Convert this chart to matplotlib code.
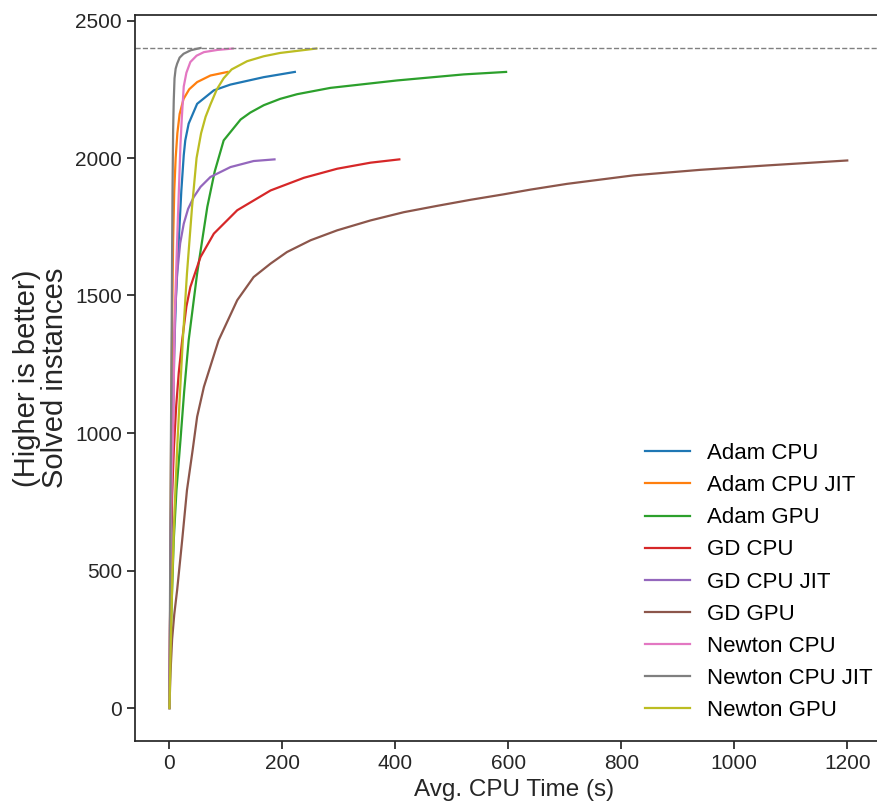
import matplotlib
matplotlib.use("Agg")
import matplotlib.pyplot as plt

plt.rcParams['font.family'] = ['Liberation Sans', 'DejaVu Sans']

# series labels (legend order)
labels = ['Adam CPU', 'Adam CPU JIT', 'Adam GPU', 'GD CPU', 'GD CPU JIT',
          'GD GPU', 'Newton CPU', 'Newton CPU JIT', 'Newton GPU']

# avg cpu time (s) / solved instances
adam_cpu_x = [0, 2, 4, 6, 8.5, 11.5, 16.5, 21, 25.3, 28, 34, 49, 78.6, 108, 167, 222]
adam_cpu_y = [0, 350, 700, 1000, 1300, 1500, 1701, 1880, 2010, 2064, 2125, 2197, 2246, 2267, 2294, 2313]

adam_jit_x = [0, 1, 2, 3, 5, 6.5, 8.5, 11, 14, 18, 25, 35, 49, 72.6, 103]
adam_jit_y = [0, 300, 650, 1000, 1450, 1700, 1880, 2000, 2090, 2160, 2215, 2250, 2276, 2300, 2313]

adam_gpu_x = [0, 2, 4.7, 7.6, 12.4, 19.5, 26, 34, 49, 67, 80, 96, 126, 143, 167, 196, 226, 285, 403, 521, 596]
adam_gpu_y = [0, 250, 429, 610, 792, 974, 1150, 1337, 1580, 1822, 1950, 2064, 2140, 2165, 2192, 2215, 2232,
              2255, 2282, 2304, 2313]

gd_cpu_x = [0, 1, 2.5, 4.7, 8, 12, 16.5, 22.5, 30, 37, 55, 78.6, 120, 179, 238, 297, 356, 407]
gd_cpu_y = [0, 300, 580, 780, 950, 1100, 1220, 1337, 1460, 1531, 1640, 1725, 1810, 1882, 1928, 1961, 1983, 1995]

gd_jit_x = [0, 1, 2, 3.5, 5, 7.6, 10, 13.6, 19, 25.3, 33, 43, 55, 72.6, 108, 149, 186]
gd_jit_y = [0, 300, 600, 850, 1000, 1250, 1430, 1580, 1690, 1761, 1815, 1858, 1895, 1931, 1967, 1989, 1995]

gd_gpu_x = [0, 1.8, 4.7, 8.5, 13.6, 22.5, 31, 41, 49, 61, 87, 120, 149, 179, 208, 250,
            297, 356, 415, 474, 533, 592, 639, 704, 822, 940, 1058, 1200]
gd_gpu_y = [0, 127, 250, 340, 429, 610, 792, 937, 1059, 1168, 1337, 1483, 1567, 1616, 1658, 1701,
            1737, 1773, 1803, 1826, 1848, 1868, 1885, 1906, 1937, 1957, 1973, 1991]

newton_cpu_x = [0, 1, 2, 3.5, 5, 6.5, 9, 13.6, 17, 19.5, 22, 25.3, 30, 37, 48, 61, 85, 112]
newton_cpu_y = [0, 300, 600, 800, 900, 1000, 1400, 1700, 1900, 2050, 2150, 2260, 2310, 2349, 2372, 2385, 2393, 2398]

newton_jit_x = [0, 1, 2, 3, 4, 4.7, 5.5, 6.5, 7.6, 9, 11, 13.6, 18, 25, 38, 55]
newton_jit_y = [0, 400, 800, 1100, 1400, 1664, 1900, 2100, 2209, 2290, 2325, 2343, 2365, 2379, 2392, 2400]

newton_gpu_x = [0, 2, 5, 9, 14, 19, 24, 31, 40, 48, 56, 64, 72.6, 84, 96, 110, 137.5, 167, 196, 260]
newton_gpu_y = [0, 200, 470, 720, 960, 1160, 1350, 1580, 1822, 2000, 2090, 2150, 2195, 2250, 2290, 2322,
                2352, 2370, 2382, 2398]

xs = [adam_cpu_x, adam_jit_x, adam_gpu_x, gd_cpu_x, gd_jit_x, gd_gpu_x,
      newton_cpu_x, newton_jit_x, newton_gpu_x]
ys = [adam_cpu_y, adam_jit_y, adam_gpu_y, gd_cpu_y, gd_jit_y, gd_gpu_y,
      newton_cpu_y, newton_jit_y, newton_gpu_y]

total_instances = 2400

fig = plt.figure(figsize=(8.77, 8.05), dpi=100)
ax = fig.add_axes([135 / 877, 64 / 805, 758 / 877, 726 / 805])

for x, y, lab in zip(xs, ys, labels):
    ax.plot(x, y, label=lab, linewidth=1.6, solid_joinstyle='round')

ax.axhline(total_instances, color='grey', linestyle='--', linewidth=1)

ax.set_xlim(-61, 1281)
ax.set_ylim(-120, 2520)
ax.set_xticks([0, 200, 400, 600, 800, 1000, 1200])
ax.set_yticks([0, 500, 1000, 1500, 2000, 2500])

dark = '#262626'
for s in ax.spines.values():
    s.set_color(dark)
    s.set_linewidth(1.25)
ax.tick_params(colors=dark, labelsize=15, length=6, width=1.25)

ax.set_xlabel('Avg. CPU Time (s)', fontsize=17.5, color=dark)
ax.set_ylabel('(Higher is better)\nSolved instances', fontsize=21, color=dark,
              linespacing=1.0, labelpad=4)

ax.legend(loc='lower right', frameon=False, fontsize=16)

fig.savefig('out.png', dpi=100)
